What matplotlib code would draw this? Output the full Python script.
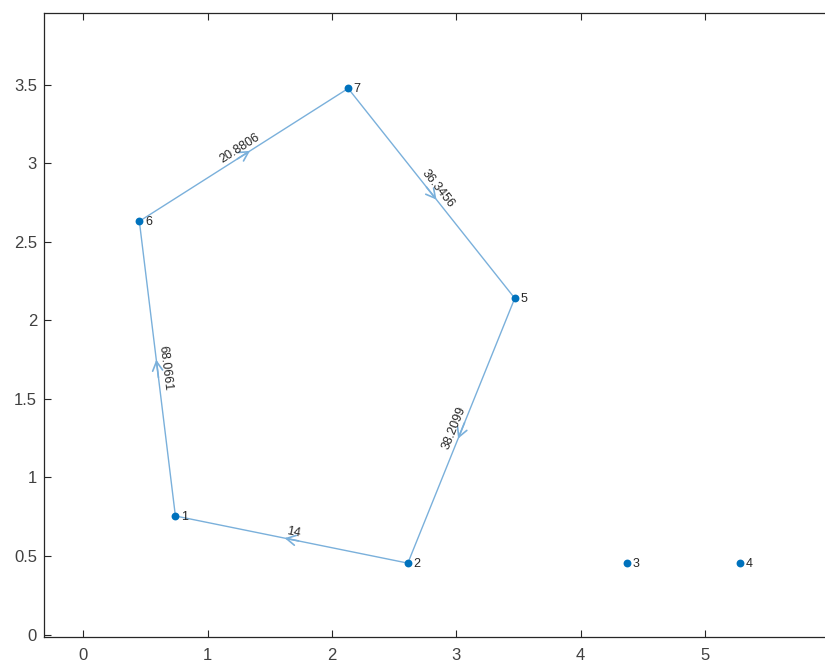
import numpy as np
import matplotlib
matplotlib.use('Agg')
import matplotlib.pyplot as plt

# node coordinates
node_ids = [1, 2, 3, 4, 5, 6, 7]
node_x = [0.74, 2.61, 4.37, 5.28, 3.47, 0.45, 2.13]
node_y = [0.755, 0.455, 0.455, 0.455, 2.14, 2.63, 3.475]

# directed edges with weights
edge_src = [2, 1, 6, 7, 5]
edge_dst = [1, 6, 7, 5, 2]
edge_w = ['14', '68.0661', '20.8806', '36.3456', '38.2099']

NODE_C = '#0072BD'
EDGE_C = '#7AB0DB'
TXT_C = '#262626'

plt.rcParams['font.family'] = ['Liberation Sans', 'DejaVu Sans']

fig = plt.figure(figsize=(8.25, 6.63), dpi=100)
ax = fig.add_axes([44/825, 26/663, 830/825, 624/663])
ax.set_xlim(-0.317, 6.36)
ax.set_ylim(-0.015, 3.955)

ax.set_xticks(range(0, 7))
ax.set_yticks([0, 0.5, 1, 1.5, 2, 2.5, 3, 3.5])
ax.set_yticklabels(['0', '0.5', '1', '1.5', '2', '2.5', '3', '3.5'])
ax.tick_params(direction='in', length=5, width=0.8, top=True, right=True,
               labelsize=12, colors=TXT_C, labelcolor='#404040')
ax.tick_params(axis='x', pad=8)
ax.tick_params(axis='y', pad=5)
for s in ax.spines.values():
    s.set_color(TXT_C)
    s.set_linewidth(0.9)

fig.canvas.draw()
pos = {n: (x, y) for n, x, y in zip(node_ids, node_x, node_y)}

for a, b, w in zip(edge_src, edge_dst, edge_w):
    x0, y0 = pos[a]
    x1, y1 = pos[b]
    ax.plot([x0, x1], [y0, y1], color=EDGE_C, lw=1.0, zorder=1)
    mx, my = (x0 + x1) / 2, (y0 + y1) / 2
    # small chevron arrowhead at the middle of the edge
    ax.annotate('', xy=(mx + (x1 - x0) * 0.03, my + (y1 - y0) * 0.03),
                xytext=(mx - (x1 - x0) * 0.03, my - (y1 - y0) * 0.03),
                arrowprops=dict(arrowstyle='->,head_length=0.55,head_width=0.3',
                                color=EDGE_C, lw=1.2,
                                mutation_scale=12, shrinkA=0, shrinkB=0),
                zorder=2)
    # label rotated along the edge
    p0 = ax.transData.transform((x0, y0))
    p1 = ax.transData.transform((x1, y1))
    ang = np.degrees(np.arctan2(p1[1] - p0[1], p1[0] - p0[0]))
    if ang > 90:
        ang -= 180
    elif ang < -90:
        ang += 180
    t = np.radians(ang)
    off = 5.5
    ax.annotate(w, (mx, my), xytext=(-np.sin(t) * off, np.cos(t) * off),
                textcoords='offset points', rotation=ang, rotation_mode='anchor',
                ha='center', va='center', fontsize=9, color=TXT_C, zorder=3)

ax.scatter(node_x, node_y, s=32, color=NODE_C, zorder=4, linewidths=0)
for n, x, y in zip(node_ids, node_x, node_y):
    ax.annotate(str(n), (x, y), xytext=(4, -0.5), textcoords='offset points',
                ha='left', va='center', fontsize=9, color=TXT_C, zorder=5)

fig.savefig('out.png', dpi=100)
